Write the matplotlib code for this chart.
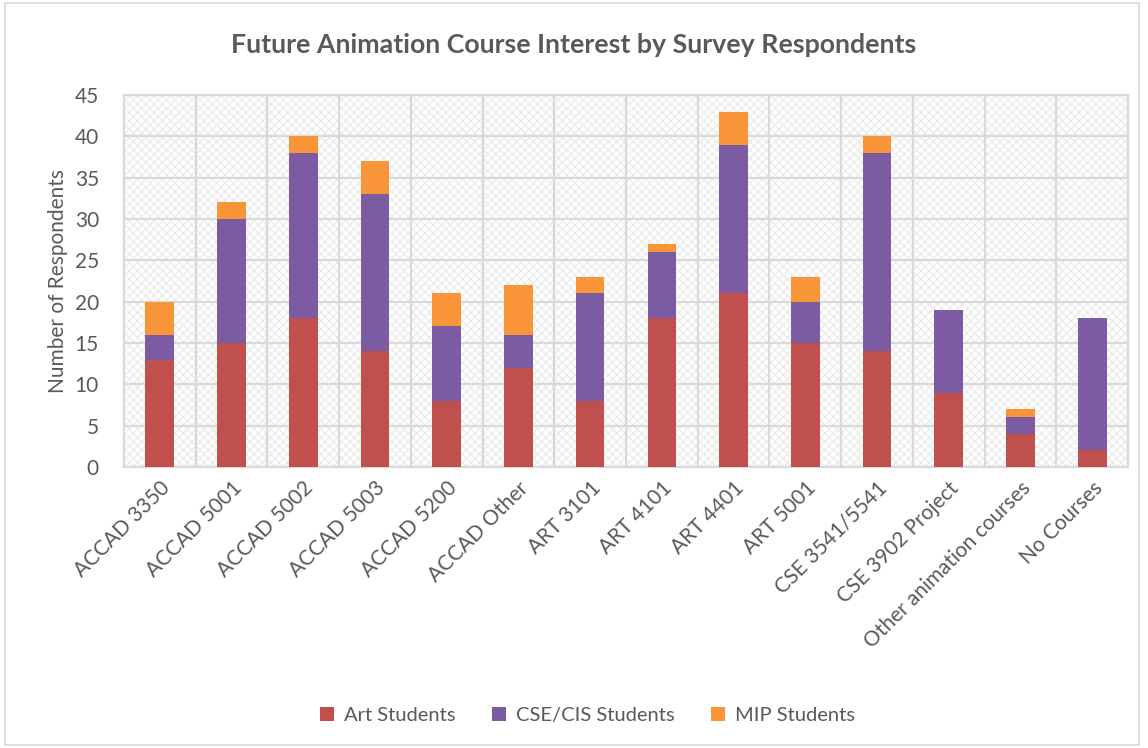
import matplotlib
matplotlib.use("Agg")
import matplotlib.pyplot as plt
from matplotlib.patches import Rectangle
import numpy as np

categories = ["ACCAD 3350", "ACCAD 5001", "ACCAD 5002", "ACCAD 5003", "ACCAD 5200",
              "ACCAD Other", "ART 3101", "ART 4101", "ART 4401", "ART 5001",
              "CSE 3541/5541", "CSE 3902 Project", "Other animation courses", "No Courses"]
art = [13, 15, 18, 14, 8, 12, 8, 18, 21, 15, 14, 9, 4, 2]
cse = [3, 15, 20, 19, 9, 4, 13, 8, 18, 5, 24, 10, 2, 16]
mip = [4, 2, 2, 4, 4, 6, 2, 1, 4, 3, 2, 0, 1, 0]
series_names = ["Art Students", "CSE/CIS Students", "MIP Students"]
colors = ["#c0504d", "#7b5ba1", "#f79538"]

plt.rcParams['font.family'] = ['Lato', 'DejaVu Sans']
plt.rcParams['hatch.linewidth'] = 1.0
plt.rcParams['hatch.color'] = '#ececec'
text_color = "#595959"

fig = plt.figure(figsize=(11.48, 7.48), dpi=100)
ax = fig.add_axes([0.108, 0.3757, 0.8746, 0.4973])

x = np.arange(len(categories))
ax.set_xlim(-0.5, len(categories) - 0.5)
ax.set_ylim(0, 45)

# hatched background
bg = Rectangle((0, 0), 1, 1, transform=ax.transAxes, facecolor='white',
               edgecolor='#ececec', hatch='xxxx', linewidth=0, zorder=0)
ax.add_patch(bg)

# gridlines
for yv in range(5, 46, 5):
    ax.axhline(yv, color='#d9d9d9', lw=1.6, zorder=1)
for xv in np.arange(0.5, len(categories) - 0.5, 1):
    ax.axvline(xv, color='#d9d9d9', lw=1.6, zorder=1)

w = 0.4
art_a = np.array(art); cse_a = np.array(cse); mip_a = np.array(mip)
ax.bar(x, art_a, w, color=colors[0], label=series_names[0], zorder=3)
ax.bar(x, cse_a, w, bottom=art_a, color=colors[1], label=series_names[1], zorder=3)
ax.bar(x, mip_a, w, bottom=art_a + cse_a, color=colors[2], label=series_names[2], zorder=3)

for s in ax.spines.values():
    s.set_color('#d9d9d9')
    s.set_linewidth(1.6)

ax.set_yticks(range(0, 46, 5))
ax.tick_params(axis='both', length=0, colors=text_color, labelsize=15)
ax.tick_params(axis='y', pad=18)
ax.set_xticks(x)
ax.set_xticklabels(categories, rotation=45, ha='right', rotation_mode='anchor')
ax.tick_params(axis='x', pad=8)
ax.set_ylabel("Number of Respondents", color=text_color, fontsize=15, labelpad=5)

fig.text(0.5, 0.94, "Future Animation Course Interest by Survey Respondents",
         ha='center', va='center', fontsize=19.3, fontweight='bold', color=text_color)

leg = fig.legend(loc='center', bbox_to_anchor=(0.512, 0.044), ncol=3, frameon=False,
                 fontsize=14.5, handlelength=0.7, handleheight=0.7, columnspacing=1.8,
                 handletextpad=0.5)
for t in leg.get_texts():
    t.set_color(text_color)

# figure border
fig.patches.append(Rectangle((0.004, 0.004), 0.988, 0.992, transform=fig.transFigure,
                             fill=False, edgecolor='#d9d9d9', linewidth=1.2))

fig.savefig("out.png", dpi=100)
